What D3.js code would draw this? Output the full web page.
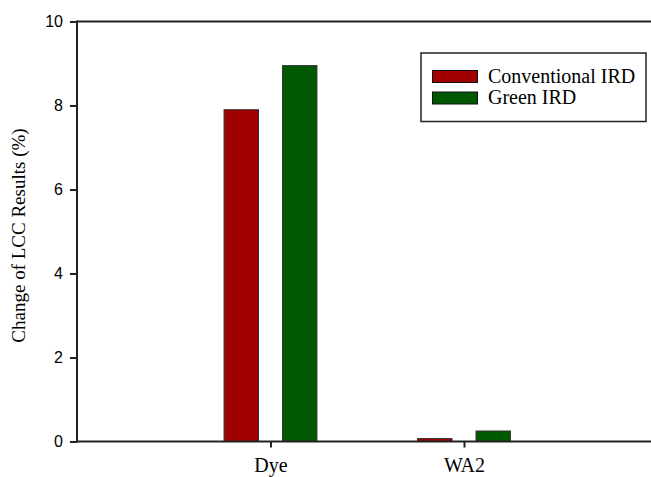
<!DOCTYPE html>
<html>
<head>
<meta charset="utf-8">
<script src="https://cdn.jsdelivr.net/npm/d3@7"></script>
<style>
  html, body { margin: 0; padding: 0; background: #fff; }
  svg { display: block; }
</style>
</head>
<body>
<svg id="chart" width="651" height="477"></svg>
<script>
// Change of LCC results per process, conventional vs green IRD
const categories = ["Dye", "WA2"];
const seriesNames = ["Conventional IRD", "Green IRD"];
const conventionalValues = [7.9, 0.07];
const greenValues = [8.95, 0.25];
const yTicks = [0, 2, 4, 6, 8, 10];
const seriesColors = ["#a00000", "#005800"];

const svg = d3.select("#chart");
const axisColor = "#222";

// category slots sit at 1, 2 on a 0..3 axis; the right part runs past the edge
const x = d3.scaleLinear().domain([0, 3]).range([77, 657.5]);
const y = d3.scaleLinear().domain([0, 10]).range([441.5, 21.5]);

const barWidth = 0.178;
const offsets = [-0.151, 0.151];
const seriesValues = [conventionalValues, greenValues];

// bars
seriesValues.forEach((vals, si) => {
  svg.append("g")
    .selectAll("rect")
    .data(vals)
    .join("rect")
    .attr("x", (d, i) => x(i + 1 + offsets[si] - barWidth / 2))
    .attr("width", x(barWidth) - x(0))
    .attr("y", d => y(d))
    .attr("height", d => y(0) - y(d))
    .attr("fill", seriesColors[si])
    .attr("stroke", "#333")
    .attr("stroke-width", 1);
});

// y axis
const yAxis = d3.axisLeft(y).tickValues(yTicks).tickSize(7).tickPadding(7).tickFormat(d3.format("d"));
const gy = svg.append("g").attr("transform", `translate(${x(0)},0)`).call(yAxis);
gy.select(".domain").attr("stroke", axisColor).attr("stroke-width", 2).attr("d", `M0,${y(0) + 1}V${y(10) - 1}`);
gy.selectAll(".tick line").attr("stroke", axisColor).attr("stroke-width", 2);
gy.selectAll(".tick text")
  .attr("fill", "#000")
  .style("font-family", "'Liberation Sans', Arial, sans-serif")
  .style("font-size", "16px");

// x axis (baseline) with category ticks
const xAxis = d3.axisBottom(x).tickValues([1, 2]).tickSize(6).tickPadding(10)
  .tickFormat(d => categories[d - 1]);
const gx = svg.append("g").attr("transform", `translate(0,${y(0)})`).call(xAxis);
gx.select(".domain").attr("stroke", axisColor).attr("stroke-width", 2).attr("d", `M${x(0)},0H${x(3)}`);
gx.selectAll(".tick line").attr("stroke", axisColor).attr("stroke-width", 2);
gx.selectAll(".tick text")
  .attr("fill", "#000")
  .style("font-family", "'Liberation Serif', 'Times New Roman', serif")
  .style("font-size", "20px");

// top frame line
svg.append("line")
  .attr("x1", x(0)).attr("x2", x(3))
  .attr("y1", y(10)).attr("y2", y(10))
  .attr("stroke", axisColor).attr("stroke-width", 2);

// y axis title
svg.append("text")
  .attr("transform", `translate(25,${(y(0) + y(10)) / 2 + 4}) rotate(-90)`)
  .attr("text-anchor", "middle")
  .style("font-family", "'Liberation Serif', 'Times New Roman', serif")
  .style("font-size", "19px")
  .attr("fill", "#000")
  .text("Change of LCC Results (%)");

// legend
const legend = svg.append("g");
legend.append("rect")
  .attr("x", 421).attr("y", 53).attr("width", 225).attr("height", 68.5)
  .attr("fill", "#fff").attr("stroke", axisColor).attr("stroke-width", 1.5);
seriesNames.forEach((name, i) => {
  const row = legend.append("g").attr("transform", `translate(0,${i * 21.5})`);
  row.append("rect")
    .attr("x", 432.5).attr("y", 70.5).attr("width", 45).attr("height", 12)
    .attr("fill", seriesColors[i]).attr("stroke", "#111").attr("stroke-width", 1);
  row.append("text")
    .attr("x", 488).attr("y", 82.5)
    .style("font-family", "'Liberation Serif', 'Times New Roman', serif")
    .style("font-size", "20px")
    .attr("fill", "#000")
    .text(name);
});
</script>
</body>
</html>
